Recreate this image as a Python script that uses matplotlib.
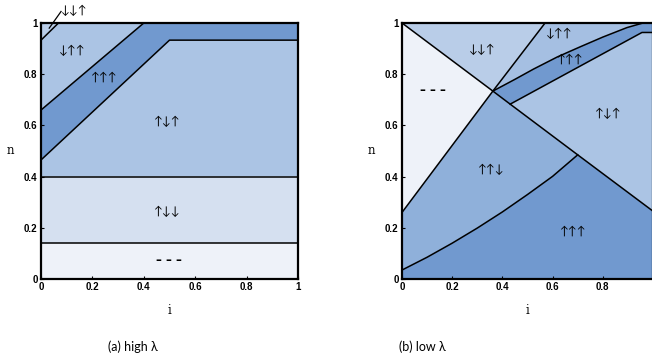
import matplotlib
matplotlib.use("Agg")
import matplotlib.pyplot as plt
from matplotlib.patches import Polygon

# ---------------- data ----------------
# colours by phase
C_NONE = "#eef2f9"
C_UDD = "#d5e0f0"
C_UDU = "#abc4e4"
C_DUU = "#a5bfe2"
C_DDU = "#b9cde8"
C_UUD = "#8fb0da"
C_UUU = "#7199cf"

# panel (a) high lambda boundaries
a_n_none = 0.14          # --- / ↑↓↓
a_n_udd = 0.40           # ↑↓↓ / ↑↓↑
a_low_x = [0.0, 0.5, 1.0]
a_low_y = [0.465, 0.933, 0.933]
a_up_x = [0.0, 0.4]
a_up_y = [0.66, 1.0]
a_corner_x = [0.0, 0.068]
a_corner_y = [0.933, 1.0]

# panel (b) low lambda boundaries
b_diag_x = [0.0, 0.362, 0.431, 0.70, 1.0]
b_diag_y = [1.0, 0.734, 0.683, 0.485, 0.265]
b_lineA_x = [0.0, 0.362, 0.570]
b_lineA_y = [0.26, 0.734, 1.0]
b_curve_x = [0.0, 0.1, 0.2, 0.3, 0.4, 0.5, 0.6, 0.70]
b_curve_y = [0.035, 0.085, 0.140, 0.199, 0.262, 0.330, 0.401, 0.485]
b_bandU_x = [0.362, 0.45, 0.524, 0.62, 0.71, 0.80, 0.896, 0.96]
b_bandU_y = [0.734, 0.78, 0.82, 0.868, 0.907, 0.945, 0.982, 1.0]
b_bandL_x = [0.431, 0.956, 1.0]
b_bandL_y = [0.683, 0.963, 0.963]

ticks = [0, 0.2, 0.4, 0.6, 0.8, 1]
tick_labels = ["0", "0.2", "0.4", "0.6", "0.8", "1"]
tick_labels_b_x = ["0", "0.2", "0.4", "0.6", "0.8", ""]   # "1" falls off the picture

# ---------------- figure ----------------
fig = plt.figure(figsize=(6.52, 3.62), dpi=100)
axA = fig.add_axes([41/652, 83/362, 257/652, 256/362])
axB = fig.add_axes([402/652, 83/362, 251/652, 256/362])

LW = 1.1
ARROW_FS = 8.5


def poly(ax, pts, color):
    ax.add_patch(Polygon(pts, closed=True, facecolor=color, edgecolor="none", zorder=1))


def style(ax, xlabels):
    ax.set_xlim(0, 1)
    ax.set_ylim(0, 1)
    ax.set_xticks(ticks)
    ax.set_yticks(ticks)
    ax.set_xticklabels(xlabels)
    ax.set_yticklabels(tick_labels)
    for lab in ax.get_xticklabels() + ax.get_yticklabels():
        lab.set_fontfamily("Liberation Sans")
        lab.set_fontweight("bold")
        lab.set_fontsize(7)
    ax.tick_params(direction="in", length=2.5, width=0.8, pad=2.5)
    for s in ax.spines.values():
        s.set_linewidth(1.6)
        s.set_zorder(5)
    ax.set_xlabel("i", fontfamily="DejaVu Serif", fontsize=8.5, labelpad=8)
    ax.set_ylabel("n", fontfamily="DejaVu Serif", fontsize=8.5, rotation=0, labelpad=10, va="center")


def lbl(ax, x, y, s, **kw):
    ax.text(x, y, s, ha="center", va="center", fontsize=ARROW_FS,
            fontfamily=["Lato", "DejaVu Sans"], zorder=6, **kw)


def dash(ax, x, y, s):
    ax.text(x, y, s, ha="center", va="center", fontsize=8.5,
            fontfamily="DejaVu Sans", fontweight="bold", zorder=6)


# ---- panel (a)
poly(axA, [(0, 0), (1, 0), (1, a_n_none), (0, a_n_none)], C_NONE)
poly(axA, [(0, a_n_none), (1, a_n_none), (1, a_n_udd), (0, a_n_udd)], C_UDD)
poly(axA, [(0, a_n_udd), (1, a_n_udd)] + list(zip(a_low_x, a_low_y))[::-1], C_UDU)
poly(axA, list(zip(a_low_x, a_low_y)) + [(1, 1)] + list(zip(a_up_x, a_up_y))[::-1], C_UUU)
poly(axA, list(zip(a_up_x, a_up_y)) + list(zip(a_corner_x, a_corner_y))[::-1], C_UDU)
poly(axA, list(zip(a_corner_x, a_corner_y)) + [(0, 1)], C_DDU)

for yy in (a_n_none, a_n_udd):
    axA.plot([0, 1], [yy, yy], color="k", lw=LW, zorder=3)
axA.plot(a_low_x, a_low_y, color="k", lw=LW, zorder=3)
axA.plot(a_up_x, a_up_y, color="k", lw=LW, zorder=3)
axA.plot(a_corner_x, a_corner_y, color="k", lw=LW, zorder=3)
axA.plot([0.032, 0.078], [0.98, 1.045], color="k", lw=0.9, zorder=6, clip_on=False)

lbl(axA, 0.13, 1.05, "↓↓↑", clip_on=False)
lbl(axA, 0.122, 0.895, "↓↑↑")
lbl(axA, 0.246, 0.788, "↑↑↑")
lbl(axA, 0.493, 0.614, "↑↓↑")
lbl(axA, 0.493, 0.263, "↑↓↓")
dash(axA, 0.498, 0.074, "– – –")
style(axA, tick_labels)

# ---- panel (b)
P = (b_lineA_x[1], b_lineA_y[1])
diag = list(zip(b_diag_x, b_diag_y))
curve = list(zip(b_curve_x, b_curve_y))
bandU = list(zip(b_bandU_x, b_bandU_y))
bandL = list(zip(b_bandL_x, b_bandL_y))
topA = (b_lineA_x[-1], b_lineA_y[-1])

poly(axB, [diag[0], P, (b_lineA_x[0], b_lineA_y[0])], C_NONE)
poly(axB, [diag[0], topA, P], C_DDU)
poly(axB, [P, topA] + bandU[::-1], C_DUU)
poly(axB, bandU + [(1, 1)] + bandL[::-1] + [P], C_UUU)
poly(axB, bandL + diag[2:][::-1], C_UDU)
poly(axB, [(b_lineA_x[0], b_lineA_y[0])] + diag[1:4] + curve[::-1], C_UUD)
poly(axB, [(0, 0), (1, 0), diag[-1], diag[3]] + curve[::-1], C_UUU)

axB.plot(b_diag_x, b_diag_y, color="k", lw=LW, zorder=3)
axB.plot(b_lineA_x, b_lineA_y, color="k", lw=LW, zorder=3)
axB.plot(b_curve_x, b_curve_y, color="k", lw=LW, zorder=3)
axB.plot(b_bandU_x + [1.0], b_bandU_y + [1.0], color="k", lw=LW, zorder=3)
axB.plot(b_bandL_x, b_bandL_y, color="k", lw=LW, zorder=3)

lbl(axB, 0.318, 0.897, "↓↓↑")
lbl(axB, 0.627, 0.96, "↓↑↑")
lbl(axB, 0.672, 0.86, "↑↑↑")
dash(axB, 0.122, 0.736, "– – –")
lbl(axB, 0.823, 0.648, "↑↓↑")
lbl(axB, 0.355, 0.427, "↑↑↓")
lbl(axB, 0.683, 0.186, "↑↑↑")
style(axB, tick_labels_b_x)

fig.text(132.5/652, 1 - 347/362, "(a) high λ", ha="center", va="center",
         fontsize=9, fontfamily=["Lato", "DejaVu Sans"])
fig.text(422.5/652, 1 - 347/362, "(b) low λ", ha="center", va="center",
         fontsize=9, fontfamily=["Lato", "DejaVu Sans"])

fig.savefig("out.png", dpi=100)
